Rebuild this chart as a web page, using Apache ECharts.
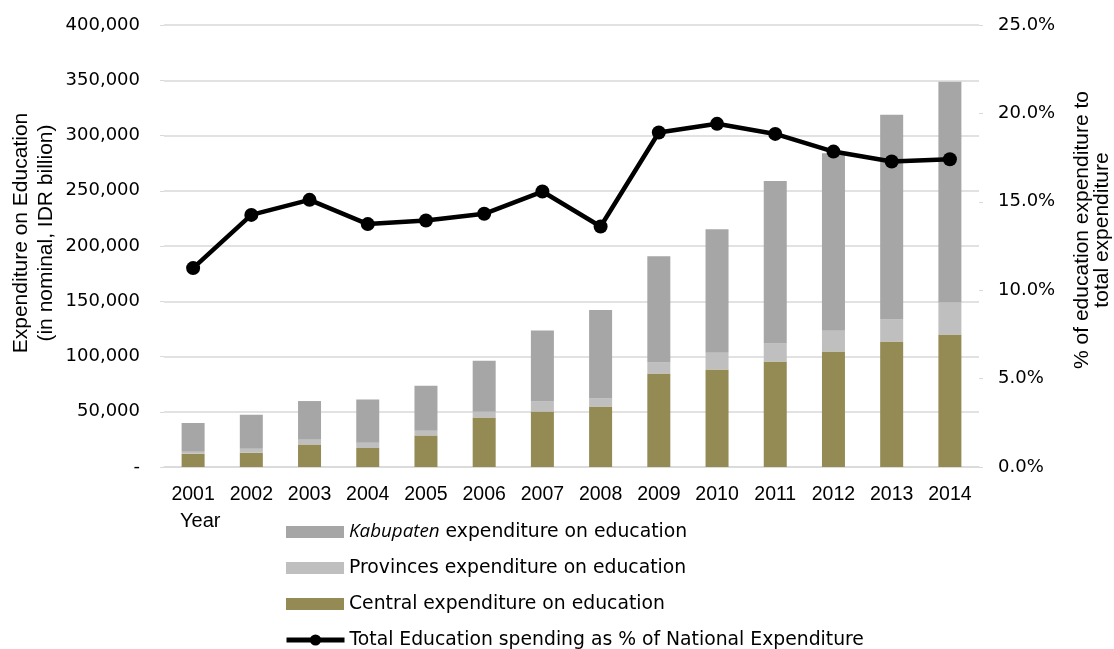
<!DOCTYPE html>
<html>
<head>
<meta charset="utf-8">
<script src="https://cdn.jsdelivr.net/npm/echarts@6/dist/echarts.min.js"></script>
<style>
  html, body { margin: 0; padding: 0; background: #fff; }
  #chart { width: 1114px; height: 649px; }
</style>
</head>
<body>
<div id="chart"></div>
<script>
// Education spending in Indonesia, 2001–2014 (nominal, IDR billion)
const years = ['2001', '2002', '2003', '2004', '2005', '2006', '2007', '2008', '2009', '2010', '2011', '2012', '2013', '2014'];
const centralSpending = [12000, 12900, 20400, 17200, 28600, 44800, 50300, 54800, 84600, 88300, 95500, 104500, 113600, 119900];
const provinceSpending = [1800, 3600, 4300, 4800, 4200, 5200, 9000, 7200, 10000, 15000, 16300, 18700, 19900, 28900];
const kabupatenSpending = [26000, 30800, 35000, 39100, 40700, 46100, 64200, 80000, 96200, 111900, 147100, 160700, 185300, 199800];
// Share of national expenditure, in percent
const educationShare = [11.25, 14.26, 15.11, 13.74, 13.94, 14.32, 15.58, 13.60, 18.92, 19.41, 18.84, 17.84, 17.28, 17.41];

const leftTicks = { min: 0, max: 400000, interval: 50000 };
const rightTicks = { min: 0, max: 25, interval: 5 };

const names = {
  kab: 'Kabupaten expenditure on education',
  prov: 'Provinces expenditure on education',
  central: 'Central expenditure on education',
  total: 'Total Education spending as % of National Expenditure'
};

const labelFont = 'DejaVu Sans, Liberation Sans, Arial, sans-serif';
const sansFont = 'Liberation Sans, Arial, sans-serif';
const gridColor = '#d9d9d9';

const legendText = {
  fontFamily: labelFont,
  fontSize: 18.8,
  lineHeight: 20,
  color: '#000',
  rich: {
    it: { fontFamily: 'Open Sans, DejaVu Sans, sans-serif', fontStyle: 'italic', fontSize: 18.8, lineHeight: 20, color: '#000' }
  }
};

const chart = echarts.init(document.getElementById('chart'), null, { renderer: 'canvas' });

chart.setOption({
  backgroundColor: '#ffffff',
  animation: false,
  textStyle: { fontFamily: labelFont, color: '#000' },
  grid: { left: 164, right: 135, top: 25, bottom: 182, containLabel: false, outerBoundsMode: 'none' },
  legend: [
    {
      orient: 'vertical',
      left: 286,
      top: 522,
      padding: 0,
      itemWidth: 58,
      itemHeight: 12,
      itemGap: 16,
      icon: 'rect',
      data: [names.kab, names.prov, names.central],
      textStyle: legendText,
      formatter: function (name) {
        if (name === names.kab) return '{it|Kabupaten} expenditure on education';
        return name;
      }
    },
    {
      orient: 'vertical',
      left: 284,
      top: 630,
      padding: 0,
      itemWidth: 58,
      itemHeight: 14,
      data: [{
        name: names.total,
        itemStyle: { color: '#000' },
        lineStyle: { color: '#000', width: 5 }
      }],
      textStyle: legendText
    }
  ],
  graphic: [
    {
      type: 'text',
      left: 180,
      top: 511,
      style: { text: 'Year', fontSize: 20, fontFamily: sansFont, fill: '#000' }
    },
    {
      type: 'text',
      x: 34,
      y: 233,
      rotation: Math.PI / 2,
      style: {
        text: 'Expenditure on Education\n(in nominal, IDR billion)',
        fontSize: 21,
        lineHeight: 25,
        fontFamily: sansFont,
        fill: '#000',
        align: 'center',
        verticalAlign: 'middle'
      }
    },
    {
      type: 'text',
      x: 1092,
      y: 230,
      rotation: Math.PI / 2,
      style: {
        text: '% of education expenditure to\ntotal expenditure',
        fontSize: 21,
        lineHeight: 20,
        fontFamily: sansFont,
        fill: '#000',
        align: 'center',
        verticalAlign: 'middle'
      }
    }
  ],
  xAxis: {
    type: 'category',
    data: years,
    axisLine: { lineStyle: { color: gridColor, width: 1.5 } },
    axisTick: { show: false },
    axisLabel: {
      interval: 0,
      margin: 18,
      fontSize: 19.5,
      fontFamily: sansFont,
      color: '#000'
    }
  },
  yAxis: [
    {
      type: 'value',
      min: leftTicks.min,
      max: leftTicks.max,
      interval: leftTicks.interval,
      axisLine: { show: false },
      axisTick: { show: true, length: 4, lineStyle: { color: gridColor } },
      splitLine: { lineStyle: { color: gridColor, width: 1.5 } },
      axisLabel: {
        margin: 24,
        fontSize: 18,
        color: '#000',
        formatter: function (v) { return v === 0 ? '-' : v.toLocaleString('en-US'); }
      }
    },
    {
      type: 'value',
      min: rightTicks.min,
      max: rightTicks.max,
      interval: rightTicks.interval,
      axisLine: { show: false },
      axisTick: { show: true, length: 4, lineStyle: { color: gridColor } },
      splitLine: { show: false },
      axisLabel: {
        margin: 19,
        fontSize: 18,
        color: '#000',
        formatter: function (v) { return v.toFixed(1) + '%'; }
      }
    }
  ],
  series: [
    {
      name: names.central,
      type: 'bar',
      stack: 'edu',
      barWidth: 23,
      data: centralSpending,
      itemStyle: { color: '#948a54' }
    },
    {
      name: names.prov,
      type: 'bar',
      stack: 'edu',
      barWidth: 23,
      data: provinceSpending,
      itemStyle: { color: '#bfbfbf' }
    },
    {
      name: names.kab,
      type: 'bar',
      stack: 'edu',
      barWidth: 23,
      data: kabupatenSpending,
      itemStyle: { color: '#a6a6a6' }
    },
    {
      name: names.total,
      type: 'line',
      yAxisIndex: 1,
      data: educationShare,
      symbol: 'circle',
      symbolSize: 14,
      lineStyle: { color: '#000', width: 4.5 },
      itemStyle: { color: '#000' },
      z: 5
    }
  ]
});
</script>
</body>
</html>
